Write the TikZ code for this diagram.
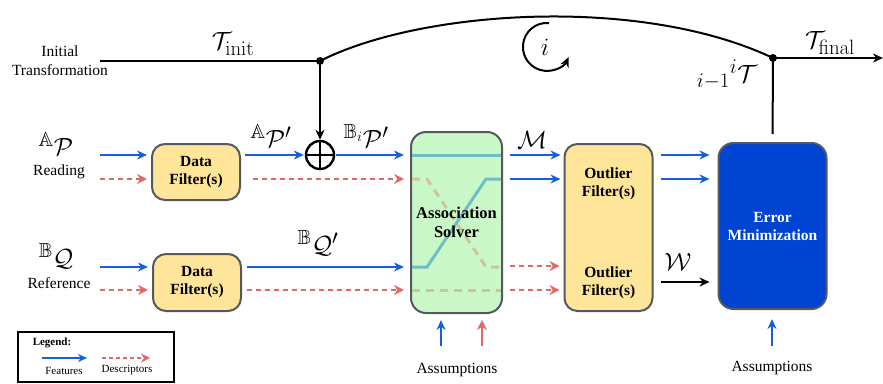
\documentclass[tikz,border=0pt]{standalone}
\usepackage{amssymb}
\usepackage[no-math]{fontspec}
\setmainfont{Liberation Serif}
\usetikzlibrary{arrows.meta}
\definecolor{featblue}{RGB}{22,96,214}
\definecolor{descred}{RGB}{224,104,104}
\definecolor{boxyellow}{RGB}{255,229,153}
\definecolor{boxgreen}{RGB}{202,247,200}
\definecolor{boxblue}{RGB}{0,68,212}
\definecolor{boxborder}{RGB}{85,88,92}
\definecolor{tealline}{RGB}{112,190,196}
\definecolor{tanline}{RGB}{206,196,150}
\tikzset{
  feat/.style={draw=featblue, line width=2.1pt, -{Stealth[length=10pt,width=9pt]}},
  desc/.style={draw=descred, line width=2pt, dash pattern=on 5pt off 4pt, -{Stealth[length=10pt,width=10pt]}},
  descsolid/.style={draw=descred, line width=2pt, -{Stealth[length=10pt,width=10pt]}},
  blk/.style={draw=black, line width=2pt, -{Stealth[length=10pt,width=9pt]}},
  blkline/.style={draw=black, line width=2pt},
  box/.style={draw=boxborder, line width=2pt, rounded corners=13pt, inner sep=0pt},
  boxtext/.style={font=\bfseries\fontsize{15.5}{18}\selectfont, align=center},
  txt/.style={font=\fontsize{15.5}{19}\selectfont, align=center},
  mathlab/.style={font=\fontsize{29}{32}\selectfont, inner sep=0pt},
  dot/.style={circle, fill=black, inner sep=0pt, minimum size=8pt},
  teal/.style={draw=tealline, line width=3pt},
  tan/.style={draw=tanline, line width=3pt, dash pattern=on 8pt off 6pt},
}
\begin{document}
\begin{tikzpicture}[x=1pt,y=-1pt]
\useasboundingbox (0,0) rectangle (883,383);

% row levels
\coordinate (r1) at (0,155);
\coordinate (r2) at (0,179);
\coordinate (r3) at (0,267);
\coordinate (r4) at (0,290);

% boxes
\node[box, fill=boxyellow, minimum width=88pt, minimum height=56pt] (df1) at (196,172) {};
\node[boxtext] at (df1) {Data\\Filter(s)};
\node[box, fill=boxyellow, minimum width=88pt, minimum height=57pt] (df2) at (197,282.5) {};
\node[boxtext] at (df2) {Data\\Filter(s)};
\node[box, rounded corners=15pt, fill=boxgreen, minimum width=91pt, minimum height=181pt] (as) at (456.5,222.5) {};
\node[box, fill=boxyellow, minimum width=88pt, minimum height=167pt] (of) at (608.5,227.5) {};
\node[boxtext] at (608.5,184) {Outlier\\Filter(s)};
\node[boxtext] at (608.5,283) {Outlier\\Filter(s)};
\node[box, rounded corners=15pt, fill=boxblue, minimum width=108pt, minimum height=166pt] (em) at (772.5,226) {};
\node[boxtext, text=white] at (em) {Error\\Minimization};

% inside association solver
\draw[teal] (412,155) -- (501,155);
\draw[teal] (412,267) -- (427,267) -- (486,179) -- (501,179);
\draw[tan] (412,179) -- (427,179) -- (486,267) -- (501,267);
\draw[tan] (412,290) -- (501,290);
\node[boxtext, font=\bfseries\fontsize{16.5}{19}\selectfont] at (456.5,222) {Association\\Solver};

% top transformation loop
\node[txt] (init) at (60,61) {Initial\\Transformation};
\coordinate (tstart) at (100,61);
\node[dot] (d1) at (320,61) {};
\node[dot] (d2) at (773,58) {};
\coordinate (tend) at (883,58);
\draw[blkline] (tstart) -- (d1);
\draw[blkline] (d1.center) .. controls (420,10) and (640,-5) .. (d2.center);
\draw[blk] (d2.center) -- (tend);
\draw[blkline, shorten <=8pt] (em.north) -- (d2.center);
\node[mathlab] at (233,44) {$\mathcal{T}_{\mathrm{init}}$};
\node[mathlab] at (830,43) {$\mathcal{T}_{\mathrm{final}}$};
\node[mathlab] at (727,75) {${}_{i-1}{}^{i}\mathcal{T}$};
% loop symbol
\node[font=\fontsize{24}{26}\selectfont] (iter) at (545,47) {$i$};
\draw[line width=2pt, -{Stealth[length=10pt,width=9pt]}] (549,23) arc[start angle=-85, end angle=-335, radius=24];

% oplus
\node[circle, draw, line width=2.4pt, minimum size=28pt, inner sep=0pt] (op) at (320,155) {};
\draw[line width=2.4pt] (op.north) -- (op.south) (op.west) -- (op.east);
\draw[blk] (d1.center) -- (op.north);

% left inputs
\node[mathlab] at (56,144) {${}^{\mathbb{A}}\mathcal{P}$};
\node[txt] at (59,172) {Reading};
\node[mathlab] at (56,256) {${}^{\mathbb{B}}\mathcal{Q}$};
\node[txt] at (59,283) {Reference};
\coordinate (in1) at (100,155);
\coordinate (in2) at (100,179);
\coordinate (in3) at (100,267);
\coordinate (in4) at (100,290);
\draw[feat, shorten >=4pt] (in1) -- (df1.west |- r1);
\draw[desc, shorten >=4pt] (in2) -- (df1.west |- r2);
\draw[feat, shorten >=4pt] (in3) -- (df2.west |- r3);
\draw[desc, shorten >=4pt] (in4) -- (df2.west |- r4);

% data filter outputs
\draw[feat, shorten <=4pt, shorten >=1pt] (df1.east |- r1) -- (op.west);
\draw[feat, shorten <=1pt, shorten >=6pt] (op.east) -- (as.west |- r1);
\draw[desc, shorten <=12pt, shorten >=6pt] (df1.east |- r2) -- (as.west |- r2);
\draw[feat, shorten <=5pt, shorten >=6pt] (df2.east |- r3) -- (as.west |- r3);
\draw[desc, shorten <=5pt, shorten >=6pt] (df2.east |- r4) -- (as.west |- r4);
\node[mathlab] at (271,136) {${}^{\mathbb{A}}\mathcal{P}'$};
\node[mathlab] at (366,136) {${}^{\mathbb{B}_i}\mathcal{P}'$};
\node[mathlab] at (318,243) {${}^{\mathbb{B}}\mathcal{Q}'$};

% association outputs
\draw[feat, shorten <=7pt, shorten >=3pt] (as.east |- r1) -- (of.west |- r1);
\draw[feat, shorten <=7pt, shorten >=3pt] (as.east |- r2) -- (of.west |- r2);
\draw[desc, shorten <=7pt, shorten >=4pt] (as.east |- 0,266) -- (of.west |- 0,266);
\draw[desc, shorten <=7pt, shorten >=4pt] (as.east |- r4) -- (of.west |- r4);
\node[mathlab] at (532,140) {$\mathcal{M}$};

% outlier outputs
\draw[feat, shorten <=7pt, shorten >=8pt] (of.east |- r1) -- (em.west |- r1);
\draw[feat, shorten <=7pt, shorten >=8pt] (of.east |- r2) -- (em.west |- r2);
\draw[blk, shorten <=7pt, shorten >=8pt] (of.east |- 0,282) -- (em.west |- 0,282);
\node[mathlab] at (678,262) {$\mathcal{W}$};

% assumptions
\coordinate (asmA) at (441,346);
\coordinate (asmB) at (482,346);
\coordinate (asmC) at (772,346);
\draw[feat, shorten >=6pt] (asmA) -- (asmA |- as.south);
\draw[descsolid, shorten >=6pt] (asmB) -- (asmB |- as.south);
\draw[feat, shorten >=9pt] (asmC) -- (asmC |- em.south);
\node[txt] at (457,370) {Assumptions};
\node[txt] at (772,368) {Assumptions};

% legend
\node[draw, line width=1.2pt, minimum width=156pt, minimum height=50pt, inner sep=0pt] (leg) at (96,357) {};
\node[font=\bfseries\fontsize{11}{13}\selectfont] at (52,343) {Legend:};
\coordinate (l1a) at (42,358);
\coordinate (l1b) at (87,358);
\coordinate (l2a) at (102,358);
\coordinate (l2b) at (150,358);
\draw[feat, line width=1.8pt, -{Stealth[length=9pt,width=8pt]}] (l1a) -- (l1b);
\draw[desc, line width=1.6pt, dash pattern=on 4pt off 3pt, -{Stealth[length=9pt,width=9pt]}] (l2a) -- (l2b);
\node[font=\fontsize{11}{13}\selectfont] at (64,371) {Features};
\node[font=\fontsize{11}{13}\selectfont] at (127,370) {Descriptors};
\end{tikzpicture}
\end{document}
